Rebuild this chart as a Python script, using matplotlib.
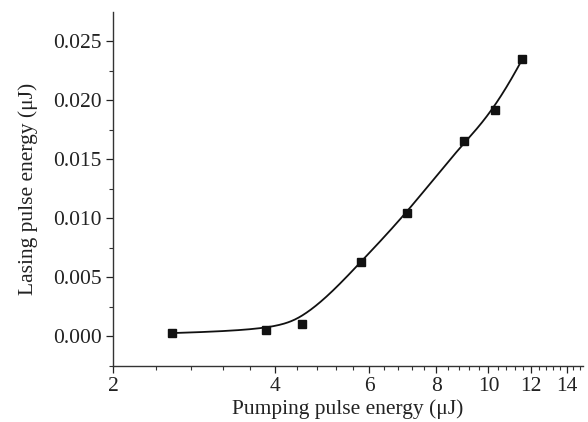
import numpy as np
import matplotlib
matplotlib.use("Agg")
import matplotlib.pyplot as plt
from matplotlib.ticker import FixedLocator, NullFormatter

# Measured data
pump_energy = [2.58, 3.85, 4.50, 5.78, 7.06, 9.00, 10.28, 11.56]
lasing_energy = [0.00025, 0.00050, 0.00104, 0.00625, 0.01045, 0.01650, 0.01913, 0.02345]

x_major = [2, 4, 6, 8, 10, 12, 14]
x_labels = ["2", "4", "6", "8", "10", "12", "14"]
y_major = [0.000, 0.005, 0.010, 0.015, 0.020, 0.025]

plt.rcParams['font.family'] = ['Liberation Serif', 'DejaVu Serif']

fig = plt.figure(figsize=(5.88, 4.22), dpi=100)
ax = fig.add_axes([0.1922, 0.1327, 0.7993, 0.8389])


def bspline_render(px, py, degree=3, n=400):
    """Clamped uniform B-spline using the data points as control points."""
    P = np.column_stack([px, py]).astype(float)
    m = len(P)
    inner = np.arange(1, m - degree)
    knots = np.concatenate([np.zeros(degree + 1), inner, np.full(degree + 1, m - degree)]).astype(float)
    u = np.linspace(0, m - degree, n)
    u[-1] -= 1e-9

    def basis(i, k, uu):
        if k == 0:
            return np.where((knots[i] <= uu) & (uu < knots[i + 1]), 1.0, 0.0)
        a = 0.0
        b = 0.0
        d1 = knots[i + k] - knots[i]
        d2 = knots[i + k + 1] - knots[i + 1]
        if d1 > 0:
            a = (uu - knots[i]) / d1 * basis(i, k - 1, uu)
        if d2 > 0:
            b = (knots[i + k + 1] - uu) / d2 * basis(i + 1, k - 1, uu)
        return a + b

    B = np.array([basis(i, degree, u) for i in range(m)])
    C = B.T @ P
    return C[:, 0], C[:, 1]


lx, cy = bspline_render(np.log10(pump_energy), lasing_energy)
ax.plot(10 ** lx, cy, color='#111111', lw=1.3, zorder=2)

ax.plot(pump_energy, lasing_energy, ls='none', marker='s', ms=6.0,
        color='#111111', zorder=3)

ax.set_xscale('log')
ax.set_xlim(2, 15)
ax.set_ylim(-0.00254, 0.02746)

ax.xaxis.set_major_locator(FixedLocator(x_major))
ax.set_xticklabels(x_labels)
minors = [round(2 + 0.4 * i, 2) for i in range(1, 33)]
minors = [m for m in minors if m not in x_major and m <= 15]
ax.xaxis.set_minor_locator(FixedLocator(minors))
ax.xaxis.set_minor_formatter(NullFormatter())

ax.set_yticks(y_major)
ax.set_yticklabels([f"{v:.3f}" for v in y_major])
ax.yaxis.set_minor_locator(FixedLocator([-0.0025 + 0.005 * i for i in range(7)]))

for s in ['top', 'right']:
    ax.spines[s].set_visible(False)
for s in ['left', 'bottom']:
    ax.spines[s].set_linewidth(1.0)
    ax.spines[s].set_color('#333333')

ax.tick_params(which='major', direction='out', length=5, width=0.9, labelsize=15.5,
               colors='#222222', pad=3)
ax.tick_params(which='minor', direction='out', length=3, width=0.8, colors='#333333')

ax.set_xlabel('Pumping pulse energy (μJ)', fontsize=15.5, labelpad=2, color='#222222')
ax.set_ylabel('Lasing pulse energy (μJ)', fontsize=15.5, labelpad=11, color='#222222')

fig.savefig('out.png', dpi=100)
